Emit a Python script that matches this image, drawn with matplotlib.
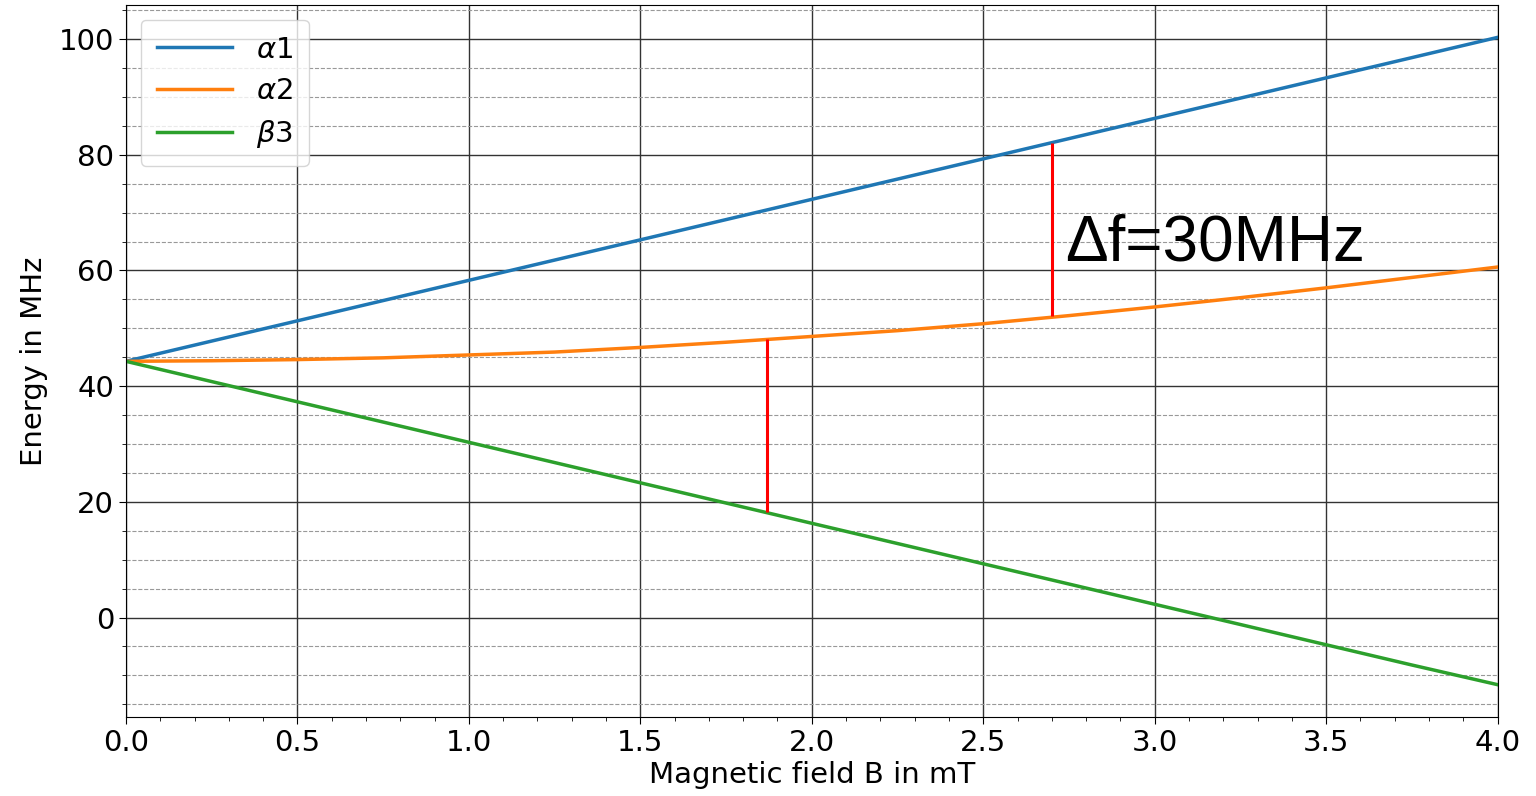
import numpy as np
import matplotlib.pyplot as plt
from matplotlib.ticker import MultipleLocator

plt.rcParams['font.size'] = 21

# magnetic field (mT) and energy levels (MHz)
b_field = [0.0, 0.25, 0.5, 0.75, 1.0, 1.25, 1.5, 1.75, 2.0, 2.25, 2.5, 2.75,
           3.0, 3.25, 3.5, 3.75, 4.0]
alpha1 = [44.3, 47.8, 51.3, 54.8, 58.3, 61.8, 65.3, 68.8, 72.3, 75.8, 79.3,
          82.8, 86.3, 89.8, 93.3, 96.8, 100.3]
alpha2 = [44.3, 44.4, 44.6, 44.9, 45.4, 45.9, 46.7, 47.6, 48.6, 49.6, 50.8,
          52.2, 53.7, 55.3, 57.0, 58.8, 60.6]
beta3 = [44.3, 40.8, 37.3, 33.8, 30.3, 26.8, 23.3, 19.8, 16.3, 12.8, 9.3,
         5.8, 2.3, -1.2, -4.7, -8.2, -11.6]
labels = [r'$\alpha1$', r'$\alpha2$', r'$\beta3$']

# transitions marked with red bars
trans_b = [1.87, 2.7]
trans_lo = [18.2, 52.1]
trans_hi = [48.2, 82.1]
trans_text = 'Δf=30MHz'

fig = plt.figure(figsize=(15.36, 7.96), dpi=100)
ax = fig.add_axes([0.082, 0.0992, 0.893, 0.8945])

for ys, lab in zip([alpha1, alpha2, beta3], labels):
    ax.plot(b_field, ys, lw=2.5, label=lab)

ax.vlines(trans_b, trans_lo, trans_hi, colors='red', lw=2.2, zorder=3)
ax.text(2.74, 61.8, trans_text, fontsize=46, family='Liberation Sans')

ax.set_xlim(0, 4)
ax.set_xticks(np.arange(0, 4.01, 0.5))
ax.xaxis.set_minor_locator(MultipleLocator(0.1))
ax.yaxis.set_minor_locator(MultipleLocator(5))
ax.grid(which='major', color='0.2', lw=1.0)
ax.grid(which='minor', axis='y', color='0.6', ls='--', lw=0.8)
ax.tick_params(which='major', length=5)
ax.tick_params(which='minor', length=3)

ax.set_xlabel('Magnetic field B in mT', labelpad=3)
ax.set_ylabel('Energy in MHz', labelpad=8)
ax.legend(loc='upper left', handlelength=2.6, borderpad=0.55, labelspacing=0.45)

fig.savefig('out.png')
